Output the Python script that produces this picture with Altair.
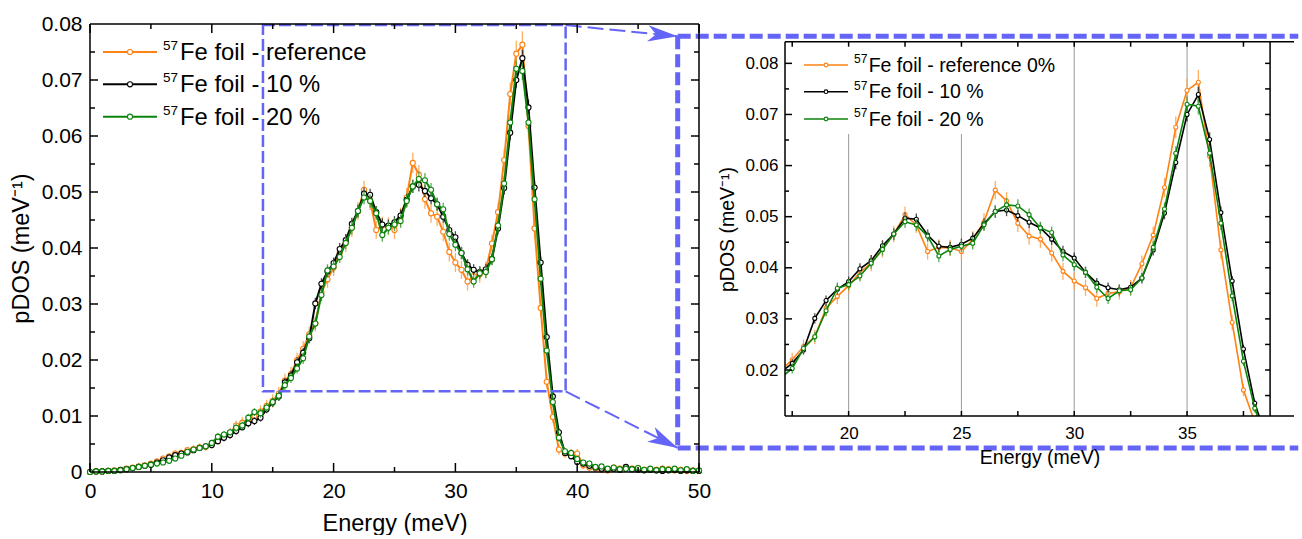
import math
import altair as alt
import pandas as pd

# --- measured partial phonon DOS, 0-50 meV in 0.5 meV steps -------------
energy_mev = [i * 0.5 for i in range(101)]

pdos_reference = [
    0.0000, 0.0001, 0.0001, 0.0002, 0.0003, 0.0004, 0.0006, 0.0008, 0.0010, 0.0012,
    0.0015, 0.0019, 0.0024, 0.0028, 0.0033, 0.0034, 0.0039, 0.0041, 0.0044, 0.0045,
    0.0050, 0.0056, 0.0063, 0.0070, 0.0083, 0.0088, 0.0092, 0.0100, 0.0108, 0.0118,
    0.0127, 0.0140, 0.0163, 0.0175, 0.0200, 0.0220, 0.0246, 0.0265, 0.0321, 0.0344,
    0.0365, 0.0391, 0.0409, 0.0436, 0.0466, 0.0504, 0.0484, 0.0432, 0.0440, 0.0439,
    0.0432, 0.0455, 0.0490, 0.0552, 0.0531, 0.0487, 0.0462, 0.0456, 0.0429, 0.0393,
    0.0374, 0.0361, 0.0340, 0.0350, 0.0353, 0.0361, 0.0408, 0.0464, 0.0557, 0.0675,
    0.0747, 0.0763, 0.0618, 0.0435, 0.0293, 0.0161, 0.0098, 0.0040, 0.0033, 0.0033,
    0.0033, 0.0012, 0.0008, 0.0006, 0.0004, 0.0003, 0.0008, 0.0006, 0.0008, 0.0006,
    0.0007, 0.0004, 0.0005, 0.0004, 0.0006, 0.0005, 0.0003, 0.0004, 0.0002, 0.0003,
    0.0002,
]
pdos_10 = [
    0.0000, 0.0001, 0.0001, 0.0002, 0.0002, 0.0004, 0.0005, 0.0007, 0.0009, 0.0011,
    0.0013, 0.0017, 0.0021, 0.0026, 0.0030, 0.0033, 0.0035, 0.0039, 0.0043, 0.0046,
    0.0048, 0.0055, 0.0061, 0.0066, 0.0073, 0.0080, 0.0087, 0.0091, 0.0097, 0.0112,
    0.0124, 0.0135, 0.0160, 0.0172, 0.0196, 0.0213, 0.0239, 0.0301, 0.0336, 0.0358,
    0.0373, 0.0398, 0.0414, 0.0443, 0.0466, 0.0497, 0.0495, 0.0464, 0.0442, 0.0440,
    0.0446, 0.0458, 0.0486, 0.0510, 0.0513, 0.0502, 0.0489, 0.0478, 0.0456, 0.0432,
    0.0419, 0.0391, 0.0370, 0.0361, 0.0357, 0.0362, 0.0380, 0.0435, 0.0507, 0.0606,
    0.0700, 0.0739, 0.0651, 0.0508, 0.0374, 0.0241, 0.0135, 0.0071, 0.0034, 0.0028,
    0.0018, 0.0015, 0.0011, 0.0008, 0.0006, 0.0005, 0.0006, 0.0004, 0.0009, 0.0005,
    0.0004, 0.0003, 0.0004, 0.0003, 0.0002, 0.0003, 0.0004, 0.0002, 0.0003, 0.0002,
    0.0002,
]
pdos_20 = [
    0.0000, 0.0001, 0.0001, 0.0002, 0.0002, 0.0003, 0.0005, 0.0007, 0.0009, 0.0011,
    0.0013, 0.0015, 0.0017, 0.0020, 0.0024, 0.0029, 0.0036, 0.0040, 0.0043, 0.0046,
    0.0052, 0.0063, 0.0067, 0.0071, 0.0079, 0.0083, 0.0097, 0.0107, 0.0105, 0.0115,
    0.0125, 0.0136, 0.0155, 0.0168, 0.0185, 0.0203, 0.0242, 0.0265, 0.0316, 0.0360,
    0.0367, 0.0384, 0.0409, 0.0436, 0.0466, 0.0490, 0.0484, 0.0462, 0.0423, 0.0436,
    0.0442, 0.0448, 0.0484, 0.0510, 0.0523, 0.0521, 0.0504, 0.0478, 0.0469, 0.0425,
    0.0406, 0.0391, 0.0362, 0.0340, 0.0355, 0.0357, 0.0380, 0.0440, 0.0515, 0.0624,
    0.0720, 0.0716, 0.0624, 0.0487, 0.0345, 0.0217, 0.0125, 0.0061, 0.0037, 0.0034,
    0.0023, 0.0017, 0.0015, 0.0009, 0.0010, 0.0006, 0.0008, 0.0005, 0.0006, 0.0005,
    0.0007, 0.0004, 0.0006, 0.0003, 0.0005, 0.0004, 0.0006, 0.0003, 0.0005, 0.0002,
    0.0003,
]

# one-sigma uncertainties
err_reference = [
    0.0001, 0.0001, 0.0001, 0.0001, 0.0002, 0.0002, 0.0002, 0.0003, 0.0003, 0.0003,
    0.0004, 0.0004, 0.0005, 0.0005, 0.0006, 0.0006, 0.0006, 0.0007, 0.0007, 0.0007,
    0.0008, 0.0008, 0.0008, 0.0009, 0.0009, 0.0010, 0.0010, 0.0010, 0.0011, 0.0011,
    0.0012, 0.0012, 0.0013, 0.0013, 0.0013, 0.0014, 0.0014, 0.0014, 0.0015, 0.0015,
    0.0015, 0.0015, 0.0016, 0.0016, 0.0016, 0.0016, 0.0016, 0.0016, 0.0016, 0.0016,
    0.0016, 0.0017, 0.0017, 0.0018, 0.0017, 0.0017, 0.0017, 0.0017, 0.0017, 0.0017,
    0.0017, 0.0016, 0.0016, 0.0016, 0.0015, 0.0015, 0.0016, 0.0017, 0.0019, 0.0021,
    0.0023, 0.0024, 0.0021, 0.0018, 0.0015, 0.0012, 0.0010, 0.0009, 0.0008, 0.0008,
    0.0008, 0.0007, 0.0007, 0.0007, 0.0006, 0.0006, 0.0006, 0.0006, 0.0006, 0.0006,
    0.0006, 0.0006, 0.0006, 0.0006, 0.0006, 0.0006, 0.0006, 0.0006, 0.0006, 0.0006,
    0.0006,
]
err_10 = [
    0.0001, 0.0001, 0.0001, 0.0001, 0.0001, 0.0001, 0.0002, 0.0002, 0.0002, 0.0002,
    0.0003, 0.0003, 0.0003, 0.0003, 0.0004, 0.0004, 0.0004, 0.0004, 0.0005, 0.0005,
    0.0005, 0.0005, 0.0006, 0.0006, 0.0006, 0.0006, 0.0007, 0.0007, 0.0007, 0.0007,
    0.0008, 0.0008, 0.0008, 0.0009, 0.0009, 0.0009, 0.0009, 0.0010, 0.0010, 0.0010,
    0.0010, 0.0011, 0.0011, 0.0011, 0.0011, 0.0011, 0.0011, 0.0011, 0.0011, 0.0011,
    0.0011, 0.0011, 0.0011, 0.0012, 0.0012, 0.0011, 0.0011, 0.0011, 0.0011, 0.0011,
    0.0011, 0.0011, 0.0010, 0.0010, 0.0010, 0.0010, 0.0010, 0.0011, 0.0012, 0.0013,
    0.0014, 0.0015, 0.0014, 0.0012, 0.0010, 0.0008, 0.0007, 0.0006, 0.0005, 0.0005,
    0.0005, 0.0005, 0.0004, 0.0004, 0.0004, 0.0004, 0.0004, 0.0004, 0.0004, 0.0004,
    0.0004, 0.0004, 0.0004, 0.0004, 0.0004, 0.0004, 0.0004, 0.0004, 0.0004, 0.0004,
    0.0004,
]
err_20 = [
    0.0001, 0.0001, 0.0001, 0.0001, 0.0001, 0.0002, 0.0002, 0.0002, 0.0002, 0.0003,
    0.0003, 0.0003, 0.0003, 0.0004, 0.0004, 0.0004, 0.0004, 0.0005, 0.0005, 0.0005,
    0.0005, 0.0006, 0.0006, 0.0006, 0.0007, 0.0007, 0.0007, 0.0007, 0.0008, 0.0008,
    0.0008, 0.0008, 0.0009, 0.0009, 0.0009, 0.0010, 0.0010, 0.0010, 0.0011, 0.0011,
    0.0011, 0.0011, 0.0011, 0.0012, 0.0012, 0.0012, 0.0012, 0.0012, 0.0012, 0.0012,
    0.0012, 0.0012, 0.0012, 0.0012, 0.0013, 0.0013, 0.0012, 0.0012, 0.0012, 0.0012,
    0.0012, 0.0011, 0.0011, 0.0011, 0.0011, 0.0011, 0.0011, 0.0012, 0.0013, 0.0014,
    0.0015, 0.0016, 0.0015, 0.0013, 0.0011, 0.0009, 0.0008, 0.0006, 0.0006, 0.0005,
    0.0005, 0.0005, 0.0005, 0.0004, 0.0004, 0.0004, 0.0004, 0.0004, 0.0004, 0.0004,
    0.0004, 0.0004, 0.0004, 0.0004, 0.0004, 0.0004, 0.0004, 0.0004, 0.0004, 0.0004,
    0.0004,
]

legend_main = ["Fe foil - reference", "Fe foil - 10 %", "Fe foil - 20 %"]
legend_inset = ["Fe foil - reference 0%", "Fe foil - 10 %", "Fe foil - 20 %"]
isotope = "57"
line_colors = ["#ff8214", "#000000", "#0b840b"]
bar_colors = ["#ffa048", "#2a2a2a", "#3c9c3c"]

FONT = "Liberation Sans"
ZOOM_BLUE = "#6464f6"
ARROW_PATH = "M0,0 L-2,-0.55 L-1.45,0 L-2,0.55 Z"

# --- panel geometry --------------------------------------------------------
LW, LH = 609, 448
L_X, L_Y = [0, 50], [0, 0.08]
RW, RH = 509, 392
R_X, R_Y = [17.18, 39.74], [0.011, 0.0877]
R_TOP = 0.08424      # upper frame of the zoomed panel
R_SPINE = 38.68      # right-hand frame of the zoomed panel
r_top_px = (R_Y[1] - R_TOP) * RH / (R_Y[1] - R_Y[0])
r_ppx = RW / (R_X[1] - R_X[0])

# zoom window and connectors (main-panel data units)
zoom_box = pd.DataFrame({"x0": [14.2], "x1": [39.05], "y0": [0.0144], "y1": [0.0798]})
BRACKET_X, BRACKET_TOP, BRACKET_BOT, BRACKET_END = 48.25, 0.0778, 0.0043, 99.2


def screen_angle(x0, y0, x1, y1):
    dx = (x1 - x0) * LW / (L_X[1] - L_X[0])
    dy = -(y1 - y0) * LH / (L_Y[1] - L_Y[0])
    return math.degrees(math.atan2(dy, dx)) % 360


arrows = pd.DataFrame({
    "x0": [39.05, 39.05], "y0": [0.0798, 0.0144],
    "x1": [BRACKET_X, BRACKET_X], "y1": [BRACKET_TOP, BRACKET_BOT],
})
arrows["angle"] = [screen_angle(r.x0, r.y0, r.x1, r.y1) for r in arrows.itertuples()]

series = list(zip([pdos_reference, pdos_10, pdos_20],
                  [err_reference, err_10, err_20], line_colors, bar_colors))
one = pd.DataFrame({"k": [0]})


def frame(vals, errs):
    return pd.DataFrame({
        "E": energy_mev, "v": vals,
        "lo": [a - b for a, b in zip(vals, errs)],
        "hi": [a + b for a, b in zip(vals, errs)],
    })


def encoders(sx, sy, ax, ay):
    def X(f):
        return alt.X(f, type="quantitative", scale=sx, axis=ax)

    def Y(f):
        return alt.Y(f, type="quantitative", scale=sy, axis=ay)
    return X, Y


def data_layers(X, Y, lw, size, clip):
    out = []
    for vals, errs, col, bcol in series:
        base = alt.Chart(frame(vals, errs))
        out.append(base.mark_rule(color=bcol, strokeWidth=1.3, opacity=0.85, clip=clip)
                   .encode(x=X("E"), y=Y("lo"), y2=alt.Y2("hi")))
        out.append(base.mark_line(color=col, strokeWidth=lw, clip=clip)
                   .encode(x=X("E"), y=Y("v")))
        out.append(base.mark_point(shape="circle", filled=True, fill="white", stroke=col,
                                   strokeWidth=1.1, size=size, opacity=1, clip=clip)
                   .encode(x=X("E"), y=Y("v")))
    return out


def text_px(txt, x, y, size):
    return alt.Chart(one).mark_text(text=txt, align="left", baseline="alphabetic",
                                    font=FONT, fontSize=size, color="black").encode(
        x=alt.value(x), y=alt.value(y))


def legend_layers(labels, rows, x_line, x_mark, x_sup, x_txt, sup_size, txt_size,
                  sup_dy, txt_dy, lw, msize):
    out = []
    for (vals, errs, col, bcol), lab, ry in zip(series, labels, rows):
        out.append(alt.Chart(one).mark_rule(color=col, strokeWidth=lw).encode(
            x=alt.value(x_line[0]), x2=alt.value(x_line[1]), y=alt.value(ry)))
        out.append(alt.Chart(one).mark_point(shape="circle", filled=True, fill="white",
                                             stroke=col, strokeWidth=1.1, size=msize,
                                             opacity=1).encode(
            x=alt.value(x_mark), y=alt.value(ry)))
        out.append(text_px(isotope, x_sup, ry + sup_dy, sup_size))
        out.append(text_px(lab, x_txt, ry + txt_dy, txt_size))
    return out


# ===================== main panel =========================================
lx_axis = alt.Axis(values=[0, 10, 20, 30, 40, 50], format="d", ticks=False, domain=False,
                   grid=False, labelFontSize=21, labelPadding=8, labelFlush=False,
                   title="Energy (meV)", titleFontSize=23.5, titlePadding=10)
ly_axis = alt.Axis(values=[0, 0.01, 0.02, 0.03, 0.04, 0.05, 0.06, 0.07, 0.08],
                   labelExpr="datum.value == 0 ? '0' : format(datum.value, '.2f')",
                   ticks=False, domain=False, grid=False, labelFontSize=21,
                   labelPadding=8, labelFlush=False, title="pDOS (meV⁻¹)",
                   titleFontSize=23.5, titlePadding=8)
LX, LY = encoders(alt.Scale(domain=L_X, nice=False), alt.Scale(domain=L_Y, nice=False),
                  lx_axis, ly_axis)

left_layers = data_layers(LX, LY, 2, 26, False)

# zoom window, connectors and bracket
left_layers.append(alt.Chart(zoom_box).mark_rect(
    fillOpacity=0, stroke=ZOOM_BLUE, strokeWidth=2.5, strokeDash=[12, 4]).encode(
    x=LX("x0"), x2=alt.X2("x1"), y=LY("y0"), y2=alt.Y2("y1")))
left_layers.append(alt.Chart(arrows).mark_rule(
    color=ZOOM_BLUE, strokeWidth=2, strokeDash=[16, 6]).encode(
    x=LX("x0"), x2=alt.X2("x1"), y=LY("y0"), y2=alt.Y2("y1")))
left_layers.append(alt.Chart(arrows).mark_point(
    shape=ARROW_PATH, filled=True, color=ZOOM_BLUE, size=900, opacity=1, strokeWidth=0).encode(
    x=LX("x1"), y=LY("y1"), angle=alt.Angle("angle", type="quantitative", scale=None)))
bracket = pd.DataFrame({
    "xa": [BRACKET_X, BRACKET_X, BRACKET_X],
    "xb": [BRACKET_X, BRACKET_END, BRACKET_END],
    "ya": [BRACKET_TOP, BRACKET_TOP, BRACKET_BOT],
    "yb": [BRACKET_BOT, BRACKET_TOP, BRACKET_BOT],
})
left_layers.append(alt.Chart(bracket).mark_rule(
    color=ZOOM_BLUE, strokeWidth=5, strokeDash=[13, 5], strokeCap="butt").encode(
    x=LX("xa"), x2=alt.X2("xb"), y=LY("ya"), y2=alt.Y2("yb")))

# legend
left_layers += legend_layers(legend_main, [28, 60.3, 92.7], (13, 67), 40, 73, 90,
                             13.5, 23.8, -2, 8, 2, 26)

# frame with inward ticks on all four sides
for spec in [dict(x=alt.value(0), x2=alt.value(LW), y=alt.value(0)),
             dict(x=alt.value(0), x2=alt.value(LW), y=alt.value(LH)),
             dict(x=alt.value(0), y=alt.value(0), y2=alt.value(LH)),
             dict(x=alt.value(LW), y=alt.value(0), y2=alt.value(LH))]:
    left_layers.append(alt.Chart(one).mark_rule(color="black", strokeWidth=1.5).encode(**spec))

x_major = pd.DataFrame({"t": [0, 10, 20, 30, 40, 50]})
x_minor = pd.DataFrame({"t": [5, 15, 25, 35, 45]})
y_major = pd.DataFrame({"t": [0.01, 0.02, 0.03, 0.04, 0.05, 0.06, 0.07]})
y_minor = pd.DataFrame({"t": [0.005, 0.015, 0.025, 0.035, 0.045, 0.055, 0.065, 0.075]})
for df, n in [(x_major, 9), (x_minor, 5)]:
    left_layers.append(alt.Chart(df).mark_rule(color="black", strokeWidth=1.5).encode(
        x=LX("t"), y=alt.value(LH), y2=alt.value(LH - n)))
    left_layers.append(alt.Chart(df).mark_rule(color="black", strokeWidth=1.5).encode(
        x=LX("t"), y=alt.value(0), y2=alt.value(n)))
for df, n in [(y_major, 8), (y_minor, 5)]:
    left_layers.append(alt.Chart(df).mark_rule(color="black", strokeWidth=1.5).encode(
        y=LY("t"), x=alt.value(0), x2=alt.value(n)))
    left_layers.append(alt.Chart(df).mark_rule(color="black", strokeWidth=1.5).encode(
        y=LY("t"), x=alt.value(LW), x2=alt.value(LW - n)))

left = alt.layer(*left_layers).properties(width=LW, height=LH)

# ===================== zoomed panel =======================================
rx_axis = alt.Axis(values=[20, 25, 30, 35], format="d", ticks=False, domain=False,
                   grid=False, labelFontSize=17, labelPadding=9, labelFlush=False,
                   title="Energy (meV)", titleFontSize=19.5, titlePadding=7)
ry_axis = alt.Axis(values=[0.02, 0.03, 0.04, 0.05, 0.06, 0.07, 0.08], format=".2f",
                   ticks=False, domain=False, grid=False, labelFontSize=17,
                   labelPadding=7, labelFlush=False, title="pDOS (meV⁻¹)",
                   titleFontSize=19.5, titlePadding=7, titleY=205)
RX, RY = encoders(alt.Scale(domain=R_X, nice=False), alt.Scale(domain=R_Y, nice=False),
                  rx_axis, ry_axis)

grid = pd.DataFrame({"t": [20, 25, 30, 35], "top": R_TOP})
right_layers = [alt.Chart(grid).mark_rule(color="#9a9a9a", strokeWidth=1).encode(
    x=RX("t"), y=RY("top"), y2=alt.value(RH))]
right_layers += data_layers(RX, RY, 1.6, 16, True)

# legend box and entries
right_layers.append(alt.Chart(one).mark_rect(color="white", opacity=1).encode(
    x=alt.value(2), x2=alt.value(278), y=alt.value(r_top_px + 1), y2=alt.value(110)))
right_layers += legend_layers(legend_inset, [41, 67.7, 95], (19, 63), 41, 69, 83.7,
                              12, 19.5, -1.7, 6.7, 1.5, 14)

# frame: top, bottom and left edges plus a right spine with ticks
edges = pd.DataFrame({"top": [R_TOP], "spine": [R_SPINE]})
right_layers.append(alt.Chart(edges).mark_rule(color="black", strokeWidth=1.5).encode(
    x=alt.value(0), x2=alt.value(RW), y=RY("top")))
right_layers.append(alt.Chart(edges).mark_rule(color="black", strokeWidth=1.5).encode(
    x=alt.value(0), x2=alt.value(RW), y=alt.value(RH)))
right_layers.append(alt.Chart(edges).mark_rule(color="black", strokeWidth=1.5).encode(
    x=alt.value(0), y=RY("top"), y2=alt.value(RH)))
right_layers.append(alt.Chart(edges).mark_rule(color="black", strokeWidth=1.5).encode(
    x=RX("spine"), y=RY("top"), y2=alt.value(RH)))

rx_ticks = pd.DataFrame({"t": [17.5, 20, 22.5, 25, 27.5, 30, 32.5, 35, 37.5]})
ry_major = pd.DataFrame({"t": [0.02, 0.03, 0.04, 0.05, 0.06, 0.07, 0.08]})
ry_minor = pd.DataFrame({"t": [0.015, 0.025, 0.035, 0.045, 0.055, 0.065, 0.075]})
ry_all = pd.DataFrame({"t": [0.015, 0.02, 0.025, 0.03, 0.035, 0.04, 0.045, 0.05,
                             0.055, 0.06, 0.065, 0.07, 0.075, 0.08]})
ry_all["a"] = R_SPINE
ry_all["b"] = R_SPINE - 5 / r_ppx
right_layers.append(alt.Chart(rx_ticks).mark_rule(color="black", strokeWidth=1.5).encode(
    x=RX("t"), y=alt.value(RH), y2=alt.value(RH - 5)))
right_layers.append(alt.Chart(rx_ticks).mark_rule(color="black", strokeWidth=1.5).encode(
    x=RX("t"), y=alt.value(r_top_px), y2=alt.value(r_top_px + 5)))
for df, n in [(ry_major, 7), (ry_minor, 4)]:
    right_layers.append(alt.Chart(df).mark_rule(color="black", strokeWidth=1.5).encode(
        y=RY("t"), x=alt.value(0), x2=alt.value(n)))
right_layers.append(alt.Chart(ry_all).mark_rule(color="black", strokeWidth=1.5).encode(
    y=RY("t"), x=RX("a"), x2=alt.X2("b")))

right = alt.layer(*right_layers).properties(width=RW, height=RH)

chart = alt.hconcat(left, right, spacing=86, bounds="flush").properties(
    padding={"left": 8, "top": 12, "right": 0, "bottom": 0}
).configure_view(stroke="transparent").configure_axis(
    labelFont=FONT, titleFont=FONT, labelColor="black", titleColor="black",
    titleFontWeight="normal"
)

chart.save("out.html", embed_options={"renderer": "svg", "actions": False})
